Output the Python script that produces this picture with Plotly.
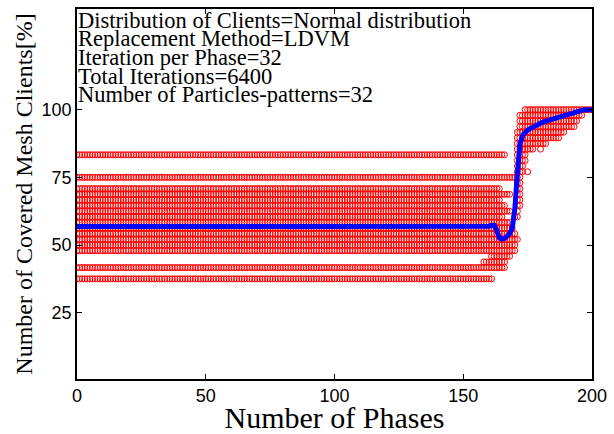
import plotly.graph_objects as go

# Coverage is counted in mesh clients out of this total
total_clients = 48

# Phases during which each particle-pattern coverage level (clients covered) is observed
level_spans = {
    18: [(0, 161)],
    20: [(0, 166)],
    21: [(158, 166)],
    22: [(161, 168)],
    23: [(0, 170)],
    24: [(0, 170)],
    25: [(0, 171)],
    26: [(0, 170)],
    27: [(0, 169)],
    28: [(0, 168)],
    29: [(0, 165), (170, 171)],
    30: [(0, 168), (171, 171)],
    31: [(0, 166), (171, 172)],
    32: [(0, 164), (171, 172)],
    33: [(0, 168), (171, 172)],
    34: [(0, 164), (171, 172)],
    35: [(171, 172)],
    36: [(0, 172)],
    37: [(171, 173), (175, 175)],
    38: [(171, 173)],
    39: [(171, 174)],
    40: [(0, 166), (171, 174)],
    41: [(171, 177), (180, 180)],
    42: [(171, 182)],
    43: [(171, 187)],
    44: [(171, 189)],
    45: [(172, 193)],
    46: [(172, 194)],
    47: [(172, 196)],
    48: [(174, 200)],
}

# Average coverage [%] over all particle-patterns per phase
mean_flat_value = 56.8
mean_flat_phases = 158
mean_tail = [
    56.8, 56.8, 56.9, 57.3, 57.3, 55.5, 52.6, 52.2, 52.4, 53.2,
    54.2, 56.0, 63.0, 76.0, 87.0, 90.5, 91.8, 92.5, 93.0, 93.6,
    94.2, 94.6, 95.0, 95.4, 95.8, 96.1, 96.3, 96.6, 96.9, 97.2,
    97.5, 97.8, 98.1, 98.4, 98.8, 99.2, 99.5, 99.7, 99.9, 100.0,
    100.0, 100.0, 100.0,
]

info_lines = [
    "Distribution of Clients=Normal distribution",
    "Replacement Method=LDVM",
    "Iteration per Phase=32",
    "Total Iterations=6400",
    "Number of Particles-patterns=32",
]

y_ticks = [25, 50, 75, 100]
x_ticks = [0, 50, 100, 150, 200]

# Expand the spans into individual scatter points
px, py = [], []
for level, spans in level_spans.items():
    pct = level * 100.0 / total_clients
    for start, end in spans:
        for phase in range(start, end + 1):
            px.append(phase)
            py.append(pct)

mean_values = [mean_flat_value] * mean_flat_phases + mean_tail
mean_phases = list(range(len(mean_values)))

fig = go.Figure()
fig.add_trace(go.Scatter(
    x=px, y=py, mode="markers",
    marker=dict(symbol="circle-open", size=6, color="#ff0000",
                line=dict(width=1, color="#ff0000")),
    hoverinfo="skip", showlegend=False,
))
fig.add_trace(go.Scatter(
    x=mean_phases, y=mean_values, mode="lines",
    line=dict(color="#0000ff", width=5),
    showlegend=False,
))

serif = "Liberation Serif, Times New Roman, serif"
sans = "Liberation Sans, Arial, sans-serif"

# Parameter block in the top-left of the plot area
plot_top, plot_h = 7, 377
line_centers = [18.5, 37, 56.5, 75.5, 94.5]
for text, yc in zip(info_lines, line_centers):
    fig.add_annotation(
        text=text, xref="paper", yref="paper",
        x=0, y=1 - (yc - plot_top) / plot_h,
        xanchor="left", yanchor="middle", showarrow=False,
        font=dict(family=serif, size=22.5, color="black"),
        borderpad=0,
    )

fig.update_layout(
    width=614, height=434,
    margin=dict(l=77, r=19, t=7, b=50),
    paper_bgcolor="white", plot_bgcolor="white",
    xaxis=dict(
        range=[0, 200], tickvals=x_ticks, ticktext=[str(v) for v in x_ticks],
        ticks="inside", ticklen=5, tickcolor="black", mirror="ticks",
        showline=True, linecolor="black", linewidth=1.5, showgrid=False,
        zeroline=False,
        tickfont=dict(family=sans, size=18, color="black"),
        title=dict(text="Number of Phases", standoff=0,
                   font=dict(family=serif, size=30, color="black")),
    ),
    yaxis=dict(
        range=[0.5, 137.2], tickvals=y_ticks, ticktext=[str(v) for v in y_ticks],
        ticks="inside", ticklen=5, tickcolor="black", mirror="ticks",
        showline=True, linecolor="black", linewidth=1.5, showgrid=False,
        zeroline=False,
        tickfont=dict(family=sans, size=18, color="black"),
        title=dict(text="Number of Covered Mesh Clients[%]", standoff=2,
                   font=dict(family=serif, size=24, color="black")),
    ),
)

fig.write_html("out.html")
